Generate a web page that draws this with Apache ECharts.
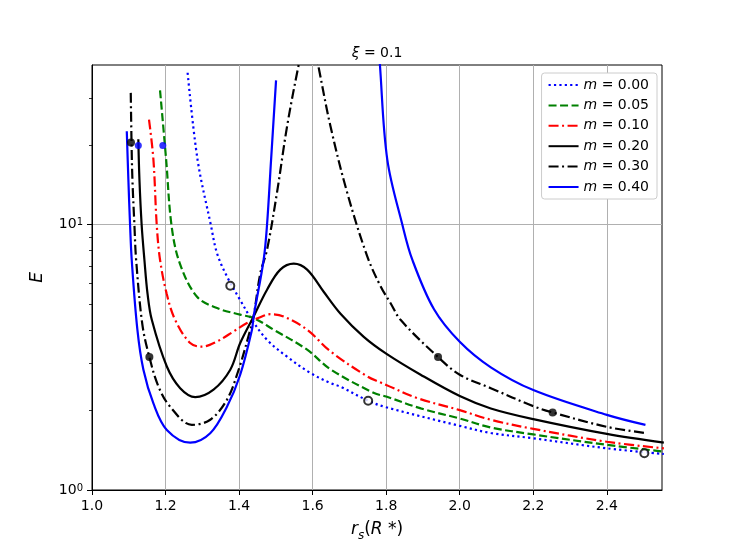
<!DOCTYPE html>
<html><head><meta charset="utf-8">
<script src="https://cdn.jsdelivr.net/npm/echarts@6/dist/echarts.min.js"></script>
<style>html,body{margin:0;padding:0;background:#fff}#c{width:736px;height:552px}</style>
</head><body><div id="c"></div>
<script>
// ---- data ----
const seriesNames = ['m = 0.00', 'm = 0.05', 'm = 0.10', 'm = 0.20', 'm = 0.30', 'm = 0.40'];
const xTicks = [1.0, 1.2, 1.4, 1.6, 1.8, 2.0, 2.2, 2.4];
const yMajorTicks = [1, 10];
const yMinorTicks = [2, 3, 4, 5, 6, 7, 8, 9, 20, 30];

const r_m000 = [1.260, 1.287, 1.323, 1.340, 1.367, 1.403, 1.435, 1.476, 1.5305, 1.594, 1.6485, 1.676, 1.751, 1.800, 2.000, 2.0845, 2.200, 2.400, 2.555];
const E_m000 = [37.4, 17.6, 10.0, 7.8, 6.38, 5.2, 4.38, 3.68, 3.18, 2.76, 2.53, 2.45, 2.17, 2.05, 1.745, 1.64, 1.567, 1.436, 1.367];

const r_m005 = [1.185, 1.2016, 1.216, 1.238, 1.285, 1.34, 1.403, 1.4395, 1.494, 1.585, 1.6485, 1.767, 1.800, 1.894, 2.000, 2.0845, 2.200, 2.400, 2.555];
const E_m005 = [32.1, 17.6, 10.0, 7.2, 5.36, 4.85, 4.58, 4.45, 4.02, 3.38, 2.85, 2.32, 2.25, 2.03, 1.86, 1.72, 1.62, 1.48, 1.395];

const r_m010 = [1.155, 1.167, 1.176, 1.185, 1.203, 1.226, 1.267, 1.299, 1.340, 1.385, 1.4215, 1.452, 1.485, 1.521, 1.585, 1.6485, 1.7485, 1.785, 1.800, 1.885, 2.000, 2.0845, 2.200, 2.400, 2.555];
const E_m010 = [24.9, 17.6, 10.0, 7.38, 5.5, 4.38, 3.58, 3.47, 3.63, 3.96, 4.26, 4.45, 4.6, 4.51, 4.02, 3.33, 2.68, 2.54, 2.49, 2.22, 2.0, 1.84, 1.7, 1.52, 1.436];

const r_m020 = [1.126, 1.129, 1.135, 1.1425, 1.151, 1.1626, 1.2035, 1.2398, 1.2807, 1.3305, 1.376, 1.403, 1.4395, 1.476, 1.512, 1.5486, 1.585, 1.630, 1.6758, 1.739, 1.801, 1.8937, 2.000, 2.0845, 2.200, 2.400, 2.555];
const E_m020 = [21.0, 14.8, 10.0, 7.38, 5.5, 4.38, 2.92, 2.42, 2.24, 2.39, 2.84, 3.58, 4.51, 5.69, 6.77, 7.13, 6.77, 5.59, 4.62, 3.78, 3.26, 2.72, 2.26, 2.03, 1.85, 1.627, 1.508];

const r_m030 = [1.1054, 1.1075, 1.1099, 1.1153, 1.120, 1.137, 1.156, 1.181, 1.2125, 1.2716, 1.3215, 1.367, 1.3987, 1.4305, 1.4395, 1.4578, 1.476, 1.503, 1.5305, 1.562, 1.59, 1.6166, 1.6485, 1.694, 1.7485, 1.785, 1.812, 1.839, 1.941, 2.000, 2.0845, 2.200, 2.2525, 2.400, 2.505];
const E_m030 = [31.4, 20.4, 14.8, 10.0, 7.38, 4.2, 3.17, 2.45, 2.06, 1.76, 1.84, 2.19, 2.84, 4.02, 4.51, 6.57, 8.05, 13.2, 23.5, 40.0, 60.0, 39.0, 23.5, 13.2, 7.6, 5.85, 5.06, 4.38, 3.17, 2.72, 2.42, 2.07, 1.96, 1.73, 1.64];

// null separates the branches of the m = 0.40 curve
const r_m040 = [1.0946, 1.0989, 1.1035, 1.108, 1.1234, 1.1398, 1.167, 1.2035, 1.267, 1.3215, 1.367, 1.403, 1.435, 1.4395, 1.4668, 1.476, 1.487, 1.5005, 1.60, 1.779, 1.783, 1.803, 1.844, 1.871, 1.930, 2.000, 2.0845, 2.200, 2.400, 2.505];
const E_m040 = [22.5, 14.8, 10.0, 7.38, 4.02, 2.84, 2.12, 1.685, 1.508, 1.637, 2.06, 2.72, 4.02, 4.51, 7.38, 10.0, 17.6, 35.0, null, 50.0, 40.0, 17.6, 10.0, 7.38, 4.8, 3.62, 2.9, 2.38, 1.92, 1.76];

const dotsBlack_r = [1.106, 1.156, 1.941, 2.2525];
const dotsBlack_E = [20.4, 3.17, 3.17, 1.96];
const dotsBlue_r = [1.126, 1.1926];
const dotsBlue_E = [19.9, 19.9];
const openDots_r = [1.376, 1.751, 2.502];
const openDots_E = [5.89, 2.17, 1.376];

// ---- helpers ----
function zip(rs, es) { return rs.map((r, i) => [r, es[i] === null ? '-' : es[i]]); }
const FONT = 'DejaVu Sans';

const curves = [
  { r: r_m000, E: E_m000, color: '#0000ff', dash: [2.2, 3.2] },
  { r: r_m005, E: E_m005, color: '#008000', dash: [8, 3.5] },
  { r: r_m010, E: E_m010, color: '#ff0000', dash: [10, 3.5, 2, 3.5] },
  { r: r_m020, E: E_m020, color: '#000000', dash: 'solid' },
  { r: r_m030, E: E_m030, color: '#000000', dash: [10, 3.5, 2, 3.5] },
  { r: r_m040, E: E_m040, color: '#0000ff', dash: 'solid' }
];

const series = curves.map((c, i) => ({
  name: seriesNames[i],
  type: 'line',
  data: zip(c.r, c.E),
  showSymbol: false,
  symbol: 'none',
  smooth: 0.35,
  connectNulls: false,
  clip: true,
  lineStyle: { color: c.color, width: 2.2, type: c.dash },
  itemStyle: { color: c.color },
  z: 3 + i
}));

series.push({
  type: 'scatter', data: zip(dotsBlack_r, dotsBlack_E), symbol: 'circle', symbolSize: 8,
  itemStyle: { color: '#000' }, z: 20
});
series.push({
  type: 'scatter', data: zip(dotsBlue_r, dotsBlue_E), symbol: 'circle', symbolSize: 7,
  itemStyle: { color: '#0000ff' }, z: 20
});
series.push({
  type: 'scatter', data: zip(openDots_r, openDots_E), symbol: 'circle', symbolSize: 8,
  itemStyle: { color: '#fff', borderColor: '#000', borderWidth: 2 }, z: 20
});

const chart = echarts.init(document.getElementById('c'), null, { renderer: 'canvas' });
chart.setOption({
  animation: false,
  backgroundColor: '#fff',
  textStyle: { fontFamily: FONT },
  grid: { left: 92, right: 74, top: 65, bottom: 62, show: true, borderColor: '#000', borderWidth: 1, backgroundColor: 'transparent' },
  graphic: [{
    type: 'text', x: 377, y: 53, z: 50,
    style: {
      text: '{i|ξ} = 0.1', align: 'center', verticalAlign: 'middle',
      fontFamily: FONT, fontSize: 14, fill: '#000',
      rich: { i: { fontStyle: 'italic', fontSize: 14, fontFamily: FONT } }
    }
  }],
  legend: {
    data: seriesNames,
    orient: 'vertical',
    right: 79, top: 73,
    itemWidth: 30, itemHeight: 14, itemGap: 6.4,
    padding: [5, 8, 5, 6],
    backgroundColor: '#fff', borderColor: '#cccccc', borderWidth: 1, borderRadius: 3,
    itemStyle: { color: 'rgba(0,0,0,0)', borderWidth: 0, opacity: 0 },
    textStyle: { fontFamily: FONT, fontSize: 14, color: '#000',
      rich: { i: { fontStyle: 'italic', fontSize: 14, fontFamily: FONT, color: '#000' } } },
    formatter: n => '{i|m}' + n.slice(1)
  },
  xAxis: {
    type: 'value', min: 1.0, max: 2.55, interval: 0.2,
    axisLine: { show: true, lineStyle: { color: '#000', width: 1 } },
    axisTick: { show: true, inside: false, length: 5, lineStyle: { color: '#000', width: 1 }, customValues: xTicks },
    axisLabel: { customValues: xTicks, formatter: v => v.toFixed(1), fontSize: 14, color: '#000', margin: 9, fontFamily: FONT },
    splitLine: { show: true, lineStyle: { color: '#b0b0b0', width: 1 } },
    name: '{i|r}{sub|s}{n|(}{i|R}{n| *)}',
    nameLocation: 'middle', nameGap: 28,
    nameTextStyle: {
      fontFamily: FONT, fontSize: 17, color: '#000',
      rich: {
        i: { fontStyle: 'italic', fontSize: 17, fontFamily: FONT, lineHeight: 24, color: '#000' },
        sub: { fontStyle: 'italic', fontSize: 12, fontFamily: FONT, verticalAlign: 'bottom', lineHeight: 14, color: '#000' },
        n: { fontSize: 17, fontFamily: FONT, lineHeight: 24, color: '#000' }
      }
    }
  },
  yAxis: [{
    type: 'log', logBase: 10, min: 1, max: 40,
    axisLine: { show: true, lineStyle: { color: '#000', width: 1 } },
    axisTick: { show: true, inside: false, length: 5, lineStyle: { color: '#000', width: 1 }, customValues: yMajorTicks },
    axisLabel: {
      customValues: yMajorTicks, margin: 9, fontSize: 14, color: '#000', fontFamily: FONT,
      formatter: v => '10{s|' + Math.round(Math.log10(v)) + '}',
      rich: { s: { fontSize: 10, fontFamily: FONT, verticalAlign: 'top', color: '#000' } }
    },
    splitLine: { show: true, lineStyle: { color: '#b0b0b0', width: 1 } },
    minorTick: { show: false },
    name: 'E', nameLocation: 'middle', nameGap: 46, nameRotate: 90,
    nameTextStyle: { fontFamily: FONT, fontSize: 17, fontStyle: 'italic', color: '#000' }
  }, {
    type: 'log', logBase: 10, min: 1, max: 40, position: 'left', offset: 0,
    axisLine: { show: false },
    axisTick: { show: true, inside: false, length: 3, lineStyle: { color: '#000', width: 0.8 }, customValues: yMinorTicks },
    axisLabel: { show: false },
    splitLine: { show: false }
  }],
  series: series
});
</script>
</body></html>
